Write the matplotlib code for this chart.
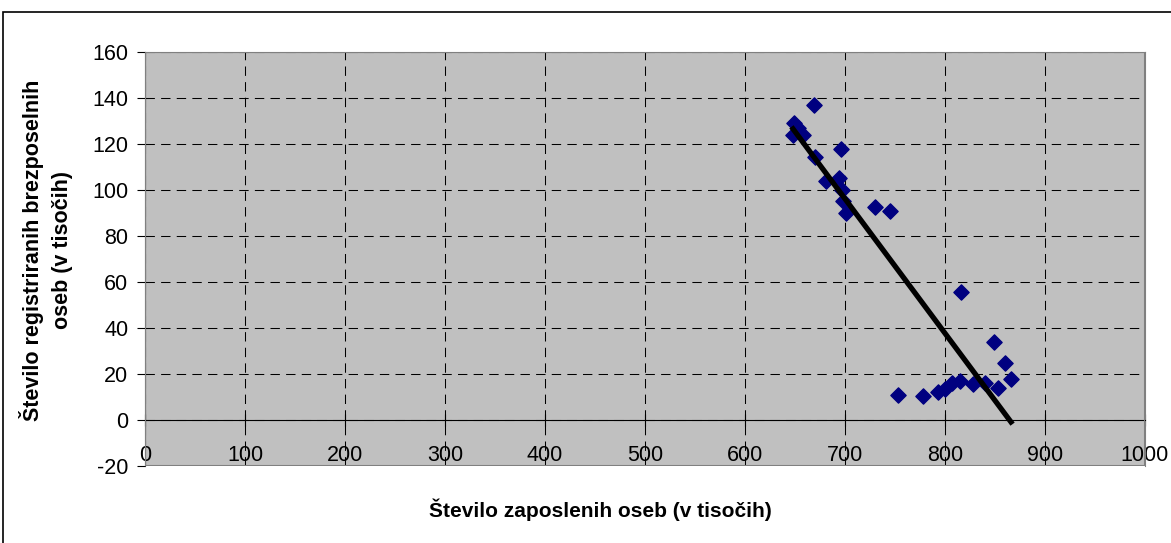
import numpy as np
import matplotlib
matplotlib.use("Agg")
import matplotlib.pyplot as plt
from matplotlib.patches import Rectangle

# employed persons (thousands) vs registered unemployed (thousands)
employed = [649, 653, 648, 658, 669, 696, 670, 681, 694, 697, 698, 701, 730, 745,
            816, 849, 860, 866, 853, 753, 778, 793, 800, 807, 815, 828, 840]
unemployed = [129, 127, 124, 124, 137, 118, 114.5, 104, 105, 100, 95, 90, 92.5, 91,
              55.5, 34, 25, 18, 14, 11, 10.5, 12, 13.5, 16, 17, 15.5, 16]

x_ticks = list(range(0, 1001, 100))
y_ticks = list(range(-20, 161, 20))
x_label = "Število zaposlenih oseb (v tisočih)"
y_label = "Število registriranih brezposelnih\noseb (v tisočih)"

plt.rcParams['font.family'] = ['Liberation Sans', 'DejaVu Sans']
plt.rcParams['axes.unicode_minus'] = False

fig = plt.figure(figsize=(11.71, 5.43), dpi=100)
ax = fig.add_axes([145 / 1171, 77 / 543, 1000 / 1171, 414 / 543])
ax.set_facecolor("#C0C0C0")

# outer chart border
fig.add_artist(Rectangle((3 / 1171, -0.2), 1.5, 0.2 + 1 - 12 / 543,
                         transform=fig.transFigure, fill=False,
                         edgecolor="black", linewidth=1.2))

ax.scatter(employed, unemployed, marker="D", s=60, color="#000080",
           edgecolors="#000080", zorder=3)

# linear trendline
k, b = np.polyfit(employed, unemployed, 1)
xs = np.array([min(employed), max(employed)])
ax.plot(xs, k * xs + b, color="black", linewidth=3.8, zorder=4)

ax.set_xlim(0, 1000)
ax.set_ylim(-20, 160)
ax.set_xticks(x_ticks)
ax.set_yticks(y_ticks)

ax.grid(True, color="black", linestyle=(0, (9, 6)), linewidth=0.75)
ax.set_axisbelow(True)

# frame of the plot area
for s in ["top", "right"]:
    ax.spines[s].set_color("#808080")
ax.spines["left"].set_color("#303030")
ax.spines["bottom"].set_position(("data", 0))
ax.spines["bottom"].set_color("black")
ax.add_patch(Rectangle((0, 0), 1, 1, transform=ax.transAxes, fill=False,
                       edgecolor="#808080", linewidth=1.5, zorder=5))

ax.tick_params(axis="x", direction="inout", length=8, pad=14, labelsize=15.5)
ax.tick_params(axis="y", direction="out", length=6, pad=6, labelsize=15.5)

fig.text(600 / 1171, 1 - 510 / 543, x_label, ha="center", va="center",
         fontsize=15, fontweight="bold")
fig.text(46 / 1171, 1 - 250 / 543, y_label, ha="center", va="center",
         rotation=90, fontsize=15.5, fontweight="bold", multialignment="center",
         linespacing=1.45)

plt.savefig("out.png", dpi=100)
plt.close()
